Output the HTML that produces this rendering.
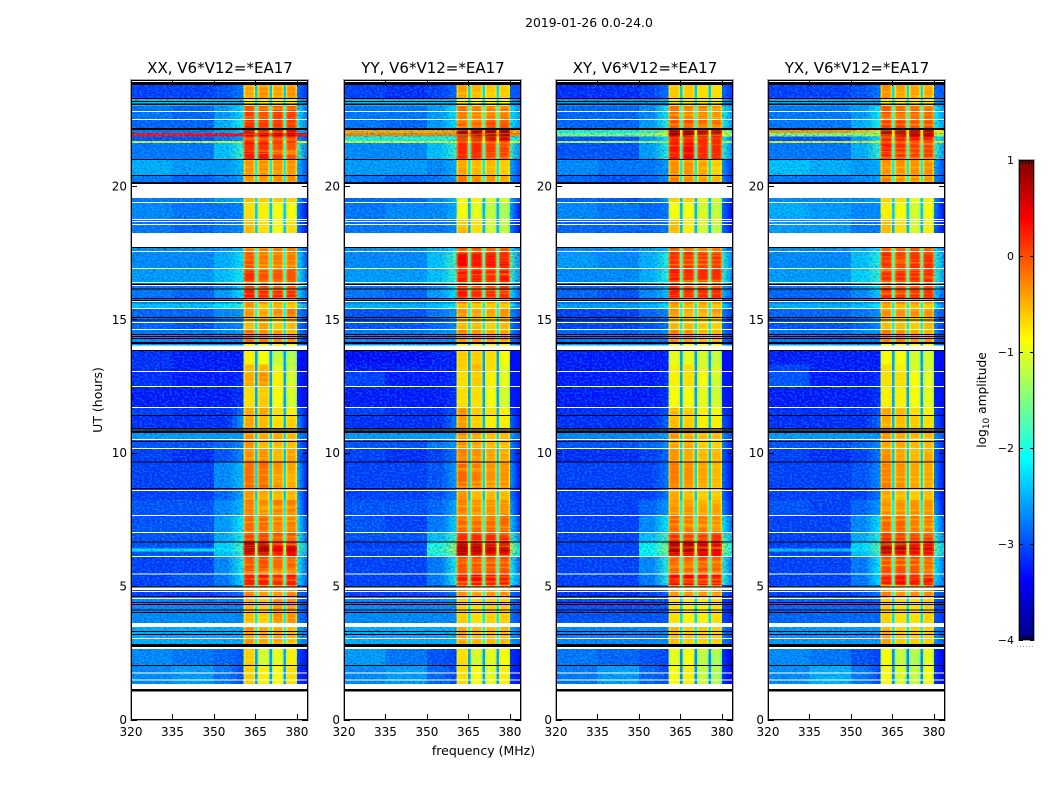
<!DOCTYPE html>
<html>
<head>
<meta charset="utf-8">
<title>2019-01-26 0.0-24.0</title>
<style>
html,body{margin:0;padding:0;background:#fff;}
svg{display:block;}
text{font-family:"DejaVu Sans","Liberation Sans",sans-serif;fill:#000;}
</style>
</head>
<body>
<svg id="chart" xmlns="http://www.w3.org/2000/svg" width="1050" height="800" viewBox="0 0 1050 800">
<defs id="chart-defs">
<filter id="speckle-dark" x="0" y="0" width="100%" height="100%">
<feTurbulence type="fractalNoise" baseFrequency="0.45 0.6" numOctaves="2" seed="7"/>
<feColorMatrix type="matrix" values="0 0 0 0 0  0 0 0 0 0  0 0 0 0 0.4  3.2 0 0 0 -1.5"/>
</filter>
<filter id="speckle-light" x="0" y="0" width="100%" height="100%">
<feTurbulence type="fractalNoise" baseFrequency="0.4 0.55" numOctaves="2" seed="23"/>
<feColorMatrix type="matrix" values="0 0 0 0 0  0 0 0 0 0.8  0 0 0 0 1  3.4 0 0 0 -1.5"/>
</filter>
<filter id="block-streaks" x="0" y="0" width="100%" height="100%">
<feTurbulence type="fractalNoise" baseFrequency="0.012 0.42" numOctaves="2" seed="11"/>
<feColorMatrix type="matrix" values="0 0 0 0 1  0 0 0 0 0.85  0 0 0 0 0  3 0 0 0 -1.35"/>
</filter>
<linearGradient id="jet-gradient" x1="0" y1="1" x2="0" y2="0"></linearGradient>
</defs>
<text x="589" y="27" font-size="12.4" text-anchor="middle">2019-01-26 0.0-24.0</text>
<text x="483.5" y="755" font-size="12.5" text-anchor="middle">frequency (MHz)</text>
<text x="102" y="400" font-size="12.5" text-anchor="middle" transform="rotate(-90 102 400)">UT (hours)</text>
<g id="panels"></g>
<g id="colorbar"></g>
<text x="986" y="400" font-size="12.2" text-anchor="middle" transform="rotate(-90 986 400)">log<tspan font-size="9" dy="3">10</tspan><tspan dy="-3"> amplitude</tspan></text>
</svg>
<script>
// Categories
const panelTitles = ["XX, V6*V12=*EA17","YY, V6*V12=*EA17","XY, V6*V12=*EA17","YX, V6*V12=*EA17"];
const xTickValues = [320,335,350,365,380];
const yTickValues = [0,5,10,15,20];
const cbarTickValues = [-4,-3,-2,-1,0,1];
// Frequency segment edges (MHz)
const freqEdges = [320,335,350,355,360.7,364.9,365.8,370.1,371,375.2,376,380,384];
// Which value of a row each frequency segment reads: low,mid,shoulder,near,s1,gap,s2,gap,s3,gap,s4,right
const segmentValueIndex = [0,1,2,3,4,9,5,9,6,9,7,8];
// UT band edges (hours, descending)
const bandEdges = [23.89,23.26,23.0,22.47,22.17,21.98,21.85,21.68,21.6,20.97,20.37,20.07,19.55,19.36,18.76,18.23,17.71,17.5,16.9,16.36,16.1,15.8,15.6,15.39,15.05,14.6,14.41,14.07,13.81,13.3,13.02,12.46,11.68,11.38,10.93,10.51,10.14,9.65,8.68,8.23,7.63,7.0,6.65,6.4,6.3,6.09,5.43,5.04,4.59,3.62,2.72,2.0,1.14];
// Values in tenths of log10 amplitude: low,mid,shoulder,near,s1,s2,s3,s4,right,gap
const xxRows = [
[-31,-31,-30,-28,-4,-3,-4,-3,-31,-24],[-24,-24,-24,-24,-8,-8,-8,-8,-27,-22],[-28,-29,-26,-22,1,0,1,1,-28,-20],[-29,-29,-25,-20,2,1,1,1,-28,-20],
[-28,-28,-26,-24,7,6,5,5,-27,-15],[3,3,3,3,6,6,6,6,3,0],[-30,-30,-28,-26,1,1,1,1,-30,-20],[-10,-10,-10,-10,3,3,3,3,-10,-8],
[-28,-28,-24,-18,3,3,1,0,-28,-19],[-25,-26,-26,-24,-3,-3,-3,-3,-30,-22],[-28,-29,-28,-26,-3,-3,-3,-3,-30,-22],null,
[-28,-28,-26,-25,-5,-6,-6,-6,-31,-23],[-27,-28,-28,-27,-7,-8,-9,-9,-33,-24],[-28,-29,-28,-27,-5,-7,-9,-7,-33,-24],null,
[-27,-27,-26,-24,-2,-2,-2,-2,-30,-21],[-27,-27,-25,-22,0,-2,-2,-2,-30,-20],[-26,-26,-24,-20,2,0,0,0,-29,-19],[-28,-28,-26,-22,1,0,-1,-1,-29,-20],
[-28,-29,-26,-22,3,2,2,2,-29,-19],[-28,-28,-27,-26,-2,-2,-3,-3,-31,-21],[-24,-24,-22,-18,-3,-6,-5,-6,-27,-21],[-29,-29,-27,-26,-3,-4,-3,-2,-30,-21],
[-29,-30,-28,-27,-5,-4,-6,-5,-31,-22],[-28,-28,-27,-26,-1,-3,-4,-5,-31,-22],[-27,-27,-27,-27,-1,-2,-3,-3,-31,-22],[-26,-26,-26,-26,-8,-8,-8,-8,-29,-24],
[-32,-33,-33,-33,-8,-9,-12,-13,-33,-26],[-32,-33,-33,-33,-5,-5,-10,-12,-33,-26],[-32,-33,-33,-32,-4,-3,-8,-11,-33,-26],[-33,-33,-33,-32,-7,-6,-9,-11,-33,-26],
[-31,-32,-32,-28,-4,-4,-7,-8,-33,-25],[-32,-32,-32,-26,-4,-5,-7,-6,-33,-25],[-26,-26,-26,-26,-3,-4,-4,-5,-29,-23],[-30,-30,-29,-27,-3,-5,-5,-5,-32,-23],
[-31,-32,-30,-27,-3,-3,-5,-4,-33,-24],[-31,-31,-27,-24,-1,-1,-3,-4,-33,-23],[-31,-31,-29,-25,-3,-4,-5,-5,-33,-24],[-30,-30,-27,-24,-2,-3,-2,-2,-33,-22],
[-30,-30,-26,-21,-1,-1,-2,-2,-31,-20],[-30,-30,-25,-20,1,1,0,0,-29,-19],[-30,-30,-23,-17,7,7,4,5,-25,-14],[-22,-22,-22,-17,8,8,5,6,-25,-14],
[-30,-30,-24,-18,6,6,3,4,-26,-15],[-31,-31,-27,-20,0,0,-1,-1,-29,-19],[-31,-30,-28,-22,3,3,2,3,-29,-19],[-31,-31,-30,-28,-2,-3,-3,-2,-30,-20],
[-27,-27,-27,-27,-5,-6,-3,-3,-30,-22],[-25,-25,-25,-25,-3,-4,-4,-5,-28,-21],[-27,-28,-29,-30,-6,-11,-10,-8,-33,-26],[-27,-26,-28,-31,-6,-8,-9,-7,-33,-26]
];
const yyRows = [
[-31,-32,-31,-29,-4,-5,-6,-6,-29,-23],[-24,-24,-24,-24,-9,-9,-9,-9,-27,-22],[-28,-28,-26,-22,-1,-2,-2,-2,-26,-19],[-28,-29,-26,-22,0,0,1,0,-26,-19],
[-5,-5,-5,-5,8,8,8,8,-5,-6],[-3,-3,-3,-3,9,9,9,9,-3,-3],[-20,-20,-20,-20,6,6,6,6,-22,-14],[-9,-9,-9,-9,0,0,0,0,-9,-8],
[-27,-27,-24,-18,2,2,1,1,-27,-19],[-26,-26,-27,-25,-4,-5,-5,-6,-30,-22],[-28,-29,-28,-26,-2,-3,-3,-4,-30,-21],null,
[-29,-29,-27,-24,-9,-8,-11,-11,-31,-25],[-28,-27,-27,-25,-9,-10,-12,-13,-33,-25],[-28,-28,-28,-27,-5,-7,-11,-12,-33,-25],null,
[-27,-27,-25,-22,1,1,0,0,-27,-19],[-27,-27,-24,-17,4,3,3,3,-27,-18],[-26,-26,-24,-18,3,3,2,3,-27,-18],[-28,-28,-26,-22,2,0,0,1,-29,-19],
[-28,-29,-26,-22,3,2,2,2,-29,-19],[-28,-28,-27,-26,-1,-2,-3,-3,-31,-21],[-25,-25,-24,-20,-5,-6,-6,-6,-28,-22],[-30,-30,-28,-26,-3,-4,-4,-3,-30,-21],
[-30,-30,-29,-27,-5,-5,-6,-5,-31,-22],[-28,-28,-27,-26,-2,-3,-4,-4,-31,-22],[-27,-27,-27,-27,-2,-2,-3,-3,-31,-22],[-26,-26,-26,-26,-8,-8,-8,-8,-29,-24],
[-34,-34,-33,-33,-6,-6,-7,-9,-33,-26],[-33,-33,-33,-33,-6,-5,-7,-10,-33,-26],[-31,-33,-33,-32,-7,-6,-8,-10,-33,-26],[-33,-33,-33,-32,-7,-7,-9,-11,-33,-26],
[-31,-32,-32,-30,-3,-6,-7,-8,-33,-25],[-32,-32,-32,-28,-3,-6,-8,-8,-33,-25],[-26,-26,-26,-25,-3,-4,-5,-5,-29,-23],[-30,-30,-28,-26,-3,-4,-5,-5,-32,-23],
[-31,-32,-31,-28,-2,-3,-4,-4,-33,-24],[-31,-31,-30,-26,-1,-2,-3,-3,-33,-23],[-31,-31,-30,-27,-3,-5,-5,-5,-33,-24],[-30,-30,-29,-25,-2,-3,-3,-3,-33,-22],
[-30,-31,-28,-23,-1,-1,-1,-1,-31,-20],[-30,-30,-24,-18,2,2,2,2,-27,-18],[-31,-31,-20,-13,7,7,6,6,-23,-13],[-30,-30,-18,-12,8,8,7,7,-22,-13],
[-31,-31,-20,-14,7,6,5,5,-23,-14],[-31,-31,-28,-20,0,0,0,0,-29,-19],[-31,-31,-28,-20,3,4,3,3,-27,-18],[-31,-31,-30,-28,-2,-3,-3,-3,-30,-20],
[-27,-27,-27,-27,-6,-7,-6,-6,-30,-22],[-25,-25,-25,-25,-4,-5,-5,-5,-28,-21],[-26,-28,-30,-31,-7,-11,-10,-9,-33,-26],[-27,-26,-29,-31,-7,-9,-10,-8,-33,-26]
];
const xyRows = [
[-32,-32,-31,-28,-6,-6,-7,-7,-31,-24],[-26,-26,-26,-25,-8,-8,-8,-8,-28,-22],[-29,-29,-27,-20,-1,-2,-2,-3,-26,-20],[-29,-29,-26,-19,0,0,-1,-1,-26,-20],
[-20,-20,-18,-12,8,8,7,7,-18,-11],[-14,-14,-12,-9,9,9,8,8,-14,-10],[-30,-30,-26,-20,2,2,2,2,-27,-18],[-12,-12,-12,-12,2,2,2,2,-12,-8],
[-30,-30,-26,-19,3,4,2,2,-27,-19],[-27,-28,-28,-26,-3,-3,-4,-6,-31,-22],[-29,-30,-29,-27,-2,-3,-4,-5,-31,-22],null,
[-29,-30,-29,-26,-6,-6,-10,-11,-32,-25],[-27,-28,-29,-28,-9,-9,-11,-12,-33,-25],[-29,-29,-29,-28,-5,-8,-11,-12,-33,-25],null,
[-27,-27,-26,-24,1,1,0,0,-29,-19],[-26,-27,-25,-19,2,2,2,2,-27,-18],[-27,-27,-25,-19,3,2,2,2,-27,-18],[-29,-29,-27,-24,2,0,0,1,-29,-19],
[-29,-30,-27,-24,3,2,2,2,-29,-19],[-29,-29,-28,-27,-1,-2,-3,-3,-31,-21],[-26,-26,-25,-22,-4,-5,-5,-6,-29,-22],[-31,-31,-29,-27,-3,-4,-4,-3,-31,-21],
[-31,-31,-30,-28,-5,-5,-6,-6,-31,-22],[-29,-29,-28,-27,-2,-3,-5,-5,-31,-22],[-28,-28,-28,-28,-2,-2,-4,-4,-31,-22],[-26,-26,-26,-26,-9,-9,-9,-9,-29,-25],
[-33,-33,-33,-33,-10,-10,-11,-12,-33,-26],[-33,-33,-33,-33,-8,-7,-11,-11,-33,-26],[-33,-33,-33,-32,-8,-7,-9,-11,-33,-26],[-33,-33,-33,-32,-9,-9,-10,-11,-33,-26],
[-32,-32,-32,-30,-5,-6,-8,-9,-33,-25],[-32,-32,-32,-29,-5,-6,-8,-8,-33,-25],[-27,-27,-27,-26,-3,-4,-5,-5,-30,-23],[-30,-30,-29,-27,-4,-4,-6,-6,-32,-23],
[-32,-32,-31,-29,-3,-4,-5,-5,-33,-24],[-31,-31,-31,-28,-2,-3,-4,-5,-33,-23],[-31,-31,-31,-28,-4,-5,-6,-6,-33,-24],[-31,-31,-29,-26,-3,-3,-4,-4,-33,-22],
[-31,-31,-27,-21,-1,-2,-2,-3,-29,-20],[-31,-31,-24,-17,2,1,1,2,-25,-18],[-31,-31,-21,-14,7,7,6,5,-21,-13],[-31,-31,-20,-13,8,8,7,6,-21,-13],
[-31,-31,-21,-15,6,5,5,4,-22,-14],[-31,-31,-27,-19,-1,-1,0,-1,-28,-19],[-31,-31,-28,-19,4,4,3,3,-27,-18],[-32,-32,-31,-29,-3,-3,-3,-3,-31,-20],
[-30,-30,-30,-30,-7,-8,-8,-7,-32,-23],[-27,-27,-27,-27,-5,-6,-6,-6,-30,-22],[-28,-29,-30,-31,-10,-9,-12,-13,-34,-27],[-28,-26,-29,-31,-9,-8,-12,-13,-34,-27]
];
const yxRows = [
[-31,-31,-30,-28,-3,-4,-4,-4,-29,-23],[-25,-25,-25,-25,-8,-8,-8,-8,-27,-22],[-28,-28,-26,-21,0,-1,-1,-1,-26,-19],[-28,-28,-25,-20,1,1,0,0,-26,-19],
[-4,-4,-6,-10,9,8,8,8,-8,-8],[-14,-14,-14,-12,8,8,8,7,-13,-9],[-30,-30,-26,-20,3,3,3,3,-25,-17],[-8,-8,-8,-8,1,1,1,1,-8,-7],
[-28,-28,-25,-18,3,2,1,1,-26,-19],[-24,-25,-26,-25,-3,-3,-3,-3,-30,-22],[-28,-28,-27,-26,-2,-3,-3,-3,-30,-21],null,
[-27,-27,-27,-26,-6,-7,-10,-8,-32,-24],[-25,-26,-27,-27,-8,-9,-11,-9,-33,-24],[-26,-26,-28,-28,-5,-7,-11,-8,-33,-25],null,
[-27,-27,-25,-22,-1,-1,0,0,-27,-19],[-27,-27,-24,-19,2,1,2,2,-26,-18],[-26,-26,-23,-18,2,2,2,2,-26,-18],[-28,-28,-26,-22,1,0,0,0,-28,-19],
[-29,-29,-27,-23,3,2,2,2,-29,-19],[-28,-28,-27,-26,-2,-2,-3,-3,-31,-21],[-25,-25,-24,-21,-4,-5,-5,-6,-28,-22],[-29,-29,-28,-26,-3,-3,-3,-3,-30,-21],
[-30,-30,-29,-27,-5,-5,-6,-5,-31,-22],[-28,-28,-27,-26,-2,-3,-4,-4,-31,-22],[-28,-28,-28,-28,-2,-2,-3,-3,-31,-22],[-26,-26,-26,-26,-9,-9,-9,-9,-29,-25],
[-33,-33,-33,-33,-9,-9,-11,-11,-33,-26],[-31,-33,-33,-33,-7,-8,-11,-11,-33,-26],[-30,-33,-33,-32,-7,-7,-9,-10,-33,-26],[-33,-33,-33,-32,-8,-8,-9,-10,-33,-26],
[-32,-32,-32,-30,-4,-5,-7,-8,-33,-25],[-32,-32,-32,-29,-4,-5,-6,-7,-33,-25],[-26,-26,-26,-26,-3,-4,-5,-5,-29,-23],[-30,-30,-29,-27,-4,-4,-5,-5,-32,-23],
[-31,-32,-31,-28,-3,-4,-5,-4,-33,-24],[-31,-31,-30,-27,-2,-3,-4,-4,-33,-23],[-31,-31,-31,-28,-4,-5,-6,-5,-33,-24],[-30,-31,-29,-26,-3,-3,-3,-3,-33,-22],
[-31,-31,-27,-22,-1,-1,-2,-2,-30,-20],[-31,-31,-25,-19,2,1,1,1,-27,-18],[-31,-31,-23,-16,7,7,5,5,-23,-14],[-24,-24,-22,-16,8,8,6,6,-23,-14],
[-31,-31,-24,-17,6,5,4,4,-24,-14],[-31,-31,-28,-21,0,0,0,-1,-28,-19],[-31,-31,-28,-22,3,4,3,3,-28,-18],[-31,-31,-30,-28,-2,-3,-3,-3,-30,-20],
[-29,-29,-29,-29,-6,-7,-7,-6,-31,-23],[-26,-26,-26,-26,-4,-6,-6,-6,-29,-22],[-27,-28,-30,-31,-9,-12,-13,-10,-34,-27],[-27,-25,-28,-31,-9,-11,-12,-9,-34,-27]
];
const panelRows = [xxRows,yyRows,xyRows,yxRows];
// Flagged UT ranges (hours): [low, high]
const whiteBands = [[23.89,24],[22.77,22.81],[22.47,22.51],[19.55,20.07],[19.36,19.4],[18.72,18.76],[18.65,18.68],[18.53,18.57],[17.71,18.23],[17.52,17.56],[16.89,16.93],[16.36,16.4],[16.25,16.28],[15.65,15.69],[15.39,15.43],[14.86,14.9],[14.6,14.64],[13.85,14.02],[13.02,13.06],[12.46,12.5],[11.68,11.72],[10.48,10.52],[10.14,10.18],[8.56,8.6],[7.63,7.67],[6.99,7.03],[6.09,6.13],[5.43,5.47],[4.85,4.95],[4.78,4.82],[4.54,4.56],[3.47,3.62],[3.02,3.06],[2.64,2.72],[1.72,1.76],[1.46,1.5],[1.14,1.33]];
const blackBands = [[23.78,23.89],[23.26,23.3],[23.14,23.18],[23.04,23.08],[22.1,22.17],[20.97,21.0],[20.37,20.4],[20.07,20.14],[17.67,17.71],[16.3,16.33],[16.12,16.16],[15.76,15.79],[15.69,15.72],[15.05,15.08],[14.97,15.0],[14.41,14.44],[14.34,14.37],[14.27,14.3],[14.07,14.15],[13.81,13.85],[11.38,11.41],[10.87,10.92],[10.74,10.84],[10.4,10.43],[9.63,9.67],[8.64,8.68],[6.63,6.67],[4.95,4.99],[4.59,4.62],[4.37,4.4],[4.29,4.32],[4.1,4.13],[3.99,4.02],[3.28,3.31],[3.17,3.2],[2.72,2.83],[2.0,2.04],[1.05,1.14]];

const SVGNS = "http://www.w3.org/2000/svg";
const panelLefts = [131,344,556,768];
const panelWidth = 177;
const plotTop = 80, plotBottom = 720;
const blockRanges = [[360.7,364.9],[365.8,370.1],[371,375.2],[376,380]];
const blockSegments = [4,6,8,10];
function xScale(left, f){ return left + (f-320)/(384-320)*panelWidth; }
function yScale(h){ return 719.5 - h*26.68; }
function clampY(y){ return Math.max(plotTop,Math.min(plotBottom,y)); }
function jetChannel(t, center){ return Math.max(0,Math.min(1,1.5-Math.abs(4*t-center))); }
function jet(v){
  const t = Math.max(0,Math.min(1,(v+4)/5));
  const r = jetChannel(t,3), g = jetChannel(t,2), b = jetChannel(t,1);
  return "rgb("+Math.round(r*255)+","+Math.round(g*255)+","+Math.round(b*255)+")";
}
function make(tag, attrs){
  const el = document.createElementNS(SVGNS, tag);
  for (const k in attrs) el.setAttribute(k, attrs[k]);
  return el;
}
const chartDefs = document.getElementById("chart-defs");
function rampFill(id, fromValue, toValue){
  const lg = make("linearGradient", {id:id, x1:"0", y1:"0", x2:"1", y2:"0"});
  lg.appendChild(make("stop", {offset:"0", "stop-color":jet(fromValue)}));
  lg.appendChild(make("stop", {offset:"1", "stop-color":jet(toValue)}));
  chartDefs.appendChild(lg);
  return "url(#"+id+")";
}
const blockFills = {};
function blockFill(v){
  const key = "block-"+Math.round((v+5)*10);
  if (!blockFills[key]){
    const lg = make("linearGradient", {id:key, x1:"0", y1:"0", x2:"1", y2:"0"});
    lg.appendChild(make("stop", {offset:"0", "stop-color":jet(v-0.5)}));
    lg.appendChild(make("stop", {offset:"0.2", "stop-color":jet(v)}));
    lg.appendChild(make("stop", {offset:"0.8", "stop-color":jet(v)}));
    lg.appendChild(make("stop", {offset:"1", "stop-color":jet(v-0.5)}));
    chartDefs.appendChild(lg);
    blockFills[key] = "url(#"+key+")";
  }
  return blockFills[key];
}
const panelsRoot = document.getElementById("panels");
panelTitles.forEach(function(title, p){
  const left = panelLefts[p];
  const g = make("g", {});
  
  
  panelsRoot.appendChild(g);
  const rows = panelRows[p];
  rows.forEach(function(row, r){
    if (!row) return;
    const yTop = clampY(yScale(bandEdges[r]));
    const yBot = clampY(yScale(bandEdges[r+1]));
    segmentValueIndex.forEach(function(vi, s){
      const x0 = xScale(left, freqEdges[s]);
      const x1 = xScale(left, freqEdges[s+1]);
      let fill = jet(row[vi]/10);
      if (s === 3) fill = rampFill("near-"+p+"-"+r, row[2]/10, row[3]/10);
      if (s === 11) fill = rampFill("right-"+p+"-"+r, row[3]/10, row[8]/10);
      if (blockSegments.indexOf(s) >= 0) fill = blockFill(row[vi]/10);
      const cell = make("rect", {x:x0, y:yTop, width:x1-x0, height:yBot-yTop, fill:fill, "shape-rendering":"crispEdges"});
      
      
      g.appendChild(cell);
    });
  });
  const texTop = yScale(23.89), texH = yScale(1.05)-yScale(23.89);
  const sp1 = make("rect", {x:xScale(left,320), y:texTop, width:xScale(left,360.7)-xScale(left,320), height:texH, filter:"url(#speckle-dark)", opacity:"0.4"});
  
  
  g.appendChild(sp1);
  const sp2 = make("rect", {x:xScale(left,320), y:texTop, width:xScale(left,360.7)-xScale(left,320), height:texH, filter:"url(#speckle-light)", opacity:"0.35"});
  
  
  g.appendChild(sp2);
  const sp3 = make("rect", {x:xScale(left,380), y:texTop, width:xScale(left,384)-xScale(left,380), height:texH, filter:"url(#speckle-dark)", opacity:"0.4"});
  
  
  g.appendChild(sp3);
  blockRanges.forEach(function(br){
    const st = make("rect", {x:xScale(left,br[0]), y:texTop, width:xScale(left,br[1])-xScale(left,br[0]), height:texH, filter:"url(#block-streaks)", opacity:"0.5"});
    
    
    g.appendChild(st);
  });
  whiteBands.forEach(function(b){
    const y0 = clampY(yScale(b[1])), y1 = clampY(yScale(b[0]));
    const w = make("rect", {x:left, y:y0, width:panelWidth, height:Math.max(1,y1-y0), fill:"#fff", "shape-rendering":"crispEdges"});
    
    
    g.appendChild(w);
  });
  blackBands.forEach(function(b){
    const y0 = clampY(yScale(b[1])), y1 = clampY(yScale(b[0]));
    const k = make("rect", {x:left, y:y0, width:panelWidth, height:Math.max(1,y1-y0), fill:"#000", "shape-rendering":"crispEdges"});
    
    
    g.appendChild(k);
  });
  const halo = make("rect", {x:left-0.5, y:plotTop-0.5, width:panelWidth+1, height:plotBottom-plotTop+1, fill:"none", stroke:"#aaa", "stroke-width":"1", "shape-rendering":"crispEdges"});
  
  
  g.appendChild(halo);
  const frame = make("rect", {x:left+0.5, y:plotTop+0.5, width:panelWidth-1, height:plotBottom-plotTop-1, fill:"none", stroke:"#000", "stroke-width":"1", "shape-rendering":"crispEdges"});
  
  
  g.appendChild(frame);
  const ttl = make("text", {x:left+panelWidth/2+0.5, y:73, "font-size":"15", "text-anchor":"middle"});
  ttl.textContent = title;
  
  
  g.appendChild(ttl);
  xTickValues.forEach(function(f){
    const x = Math.round(xScale(left,f))+0.5;
    const t1 = make("line", {x1:x, x2:x, y1:plotBottom, y2:plotBottom-6, stroke:"#000"});
    
    
    g.appendChild(t1);
    const t2 = make("line", {x1:x, x2:x, y1:plotTop, y2:plotTop+6, stroke:"#000"});
    
    
    g.appendChild(t2);
    const lab = make("text", {x:xScale(left,f), y:736, "font-size":"12", "text-anchor":"middle"});
    lab.textContent = f;
    
    
    g.appendChild(lab);
  });
  yTickValues.forEach(function(h){
    const y = Math.round(yScale(h))+0.5;
    const t1 = make("line", {x1:left, x2:left+6, y1:y, y2:y, stroke:"#000"});
    
    
    g.appendChild(t1);
    const t2 = make("line", {x1:left+panelWidth, x2:left+panelWidth-6, y1:y, y2:y, stroke:"#000"});
    
    
    g.appendChild(t2);
    const lab = make("text", {x:left-4, y:yScale(h)+4.5, "font-size":"12", "text-anchor":"end"});
    lab.textContent = h;
    
    
    g.appendChild(lab);
  });
});
// Colorbar
const cbarGroup = document.getElementById("colorbar");
const cbarX = 1019, cbarW = 15, cbarTop = 160, cbarBot = 640;
function cbarY(v){ return cbarBot - (v+4)/5*(cbarBot-cbarTop); }
const grad = document.getElementById("jet-gradient");
for (let i=0;i<=40;i++){
  const v = -4 + i/8;
  const st = make("stop", {offset:(i/40), "stop-color":jet(v)});
  grad.appendChild(st);
}
const cbarFill = make("rect", {x:cbarX, y:cbarTop, width:cbarW, height:cbarBot-cbarTop, fill:"url(#jet-gradient)"});


cbarGroup.appendChild(cbarFill);
const cbarFrame = make("rect", {x:cbarX+0.5, y:cbarTop+0.5, width:cbarW-1, height:cbarBot-cbarTop-1, fill:"none", stroke:"#000", "shape-rendering":"crispEdges"});


cbarGroup.appendChild(cbarFrame);
const cbarOuter = make("rect", {x:cbarX-0.5, y:cbarTop-0.5, width:cbarW+1, height:cbarBot-cbarTop+1, fill:"none", stroke:"#aaa", "shape-rendering":"crispEdges"});


cbarGroup.appendChild(cbarOuter);
cbarTickValues.forEach(function(v){
  const y = Math.round(cbarY(v))+0.5;
  const t1 = make("line", {x1:cbarX, x2:cbarX+4, y1:y, y2:y, stroke:"#000"});
  
  
  cbarGroup.appendChild(t1);
  const t2 = make("line", {x1:cbarX+cbarW, x2:cbarX+cbarW-4, y1:y, y2:y, stroke:"#000"});
  
  
  cbarGroup.appendChild(t2);
  const lab = make("text", {x:cbarX-5, y:cbarY(v)+4, "font-size":"11", "text-anchor":"end"});
  lab.textContent = (v<0 ? "\u2212"+(-v) : String(v));
  
  
  cbarGroup.appendChild(lab);
});
[3,6,9,12].forEach(function(dx){
  const top = make("line", {x1:cbarX+dx+0.5, x2:cbarX+dx+0.5, y1:cbarTop, y2:cbarTop+4, stroke:"#000"});
  
  
  cbarGroup.appendChild(top);
  const bot = make("line", {x1:cbarX+dx+0.5, x2:cbarX+dx+0.5, y1:cbarBot, y2:cbarBot-4, stroke:"#000"});
  
  
  cbarGroup.appendChild(bot);
});
const dots = make("line", {x1:1017, x2:1035, y1:646.5, y2:646.5, stroke:"#999", "stroke-dasharray":"1 2"});


cbarGroup.appendChild(dots);
</script>
</body>
</html>
